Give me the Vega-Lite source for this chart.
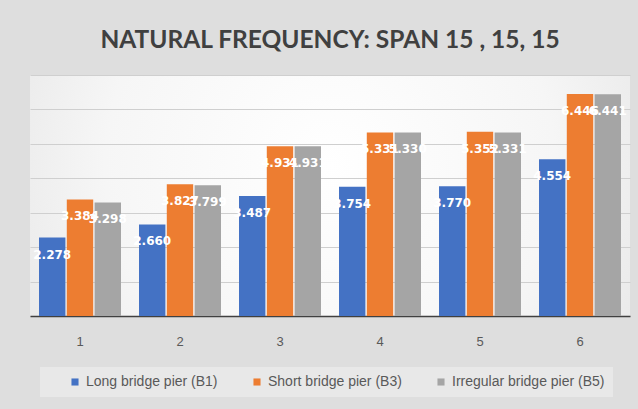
{
  "$schema": "https://vega.github.io/schema/vega-lite/v6.json",
  "width": 600,
  "height": 241,
  "autosize": {"type": "none"},
  "padding": {"left": 30, "top": 75, "right": 8, "bottom": 93},
  "background": "#dedede",
  "title": {
    "text": "NATURAL FREQUENCY: SPAN 15 , 15, 15",
    "font": "Lato",
    "fontSize": 24.5,
    "fontWeight": "bold",
    "color": "#404040",
    "anchor": "middle",
    "offset": 22
  },
  "config": {
    "view": {
      "stroke": null,
      "fill": {
        "gradient": "radial",
        "x1": 0.5, "y1": 0.45, "x2": 0.5, "y2": 0.45,
        "r1": 0, "r2": 0.75,
        "stops": [
          {"offset": 0, "color": "#ffffff"},
          {"offset": 0.5, "color": "#f6f6f6"},
          {"offset": 1, "color": "#dedede"}
        ]
      }
    }
  },
  "data": {
    "values": [
      {"mode": "1", "pier": "Long bridge pier (B1)", "freq": 2.278},
      {"mode": "1", "pier": "Short bridge pier (B3)", "freq": 3.384},
      {"mode": "1", "pier": "Irregular bridge pier (B5)", "freq": 3.298},
      {"mode": "2", "pier": "Long bridge pier (B1)", "freq": 2.660},
      {"mode": "2", "pier": "Short bridge pier (B3)", "freq": 3.827},
      {"mode": "2", "pier": "Irregular bridge pier (B5)", "freq": 3.799},
      {"mode": "3", "pier": "Long bridge pier (B1)", "freq": 3.487},
      {"mode": "3", "pier": "Short bridge pier (B3)", "freq": 4.931},
      {"mode": "3", "pier": "Irregular bridge pier (B5)", "freq": 4.931},
      {"mode": "4", "pier": "Long bridge pier (B1)", "freq": 3.754},
      {"mode": "4", "pier": "Short bridge pier (B3)", "freq": 5.331},
      {"mode": "4", "pier": "Irregular bridge pier (B5)", "freq": 5.330},
      {"mode": "5", "pier": "Long bridge pier (B1)", "freq": 3.770},
      {"mode": "5", "pier": "Short bridge pier (B3)", "freq": 5.352},
      {"mode": "5", "pier": "Irregular bridge pier (B5)", "freq": 5.331},
      {"mode": "6", "pier": "Long bridge pier (B1)", "freq": 4.554},
      {"mode": "6", "pier": "Short bridge pier (B3)", "freq": 6.446},
      {"mode": "6", "pier": "Irregular bridge pier (B5)", "freq": 6.441}
    ]
  },
  "encoding": {
    "x": {
      "field": "mode",
      "type": "ordinal",
      "scale": {"paddingInner": 0.18, "paddingOuter": 0.09},
      "axis": {
        "title": null,
        "labelAngle": 0,
        "ticks": false,
        "domainColor": "#404040",
        "domainWidth": 1.5,
        "labelColor": "#595959",
        "labelFont": "Liberation Sans",
        "labelFontSize": 13,
        "labelPadding": 19
      }
    },
    "xOffset": {
      "field": "pier",
      "sort": ["Long bridge pier (B1)", "Short bridge pier (B3)", "Irregular bridge pier (B5)"],
      "scale": {"paddingInner": 0.05}
    },
    "y": {
      "field": "freq",
      "type": "quantitative",
      "scale": {"domain": [0, 7], "nice": false},
      "axis": {
        "title": null,
        "labels": false,
        "ticks": false,
        "domain": false,
        "tickCount": 7,
        "gridColor": "#cfcfcf",
        "gridWidth": 1
      }
    }
  },
  "layer": [
    {
      "mark": {"type": "bar"},
      "encoding": {
        "color": {
          "field": "pier",
          "type": "nominal",
          "scale": {
            "domain": ["Long bridge pier (B1)", "Short bridge pier (B3)", "Irregular bridge pier (B5)"],
            "range": ["#4472C4", "#ED7D31", "#A5A5A5"]
          },
          "legend": {
            "title": " ",
            "titleOrient": "left",
            "titlePadding": 20,
            "titleFontSize": 8,
            "orient": "none",
            "legendX": 10,
            "legendY": 292,
            "direction": "horizontal",
            "symbolType": "square",
            "symbolSize": 50,
            "symbolStrokeWidth": 0,
            "labelFont": "Liberation Sans",
            "labelFontSize": 14,
            "labelColor": "#595959",
            "columnPadding": 32,
            "fillColor": "#e8e8e8",
            "padding": 8
          }
        }
      }
    },
    {
      "mark": {
        "type": "text",
        "color": "white",
        "font": "DejaVu Sans",
        "fontSize": 12,
        "fontWeight": "bold",
        "baseline": "middle",
        "dy": 17
      },
      "encoding": {
        "text": {"field": "freq", "type": "quantitative", "format": ".3f"}
      }
    }
  ]
}
